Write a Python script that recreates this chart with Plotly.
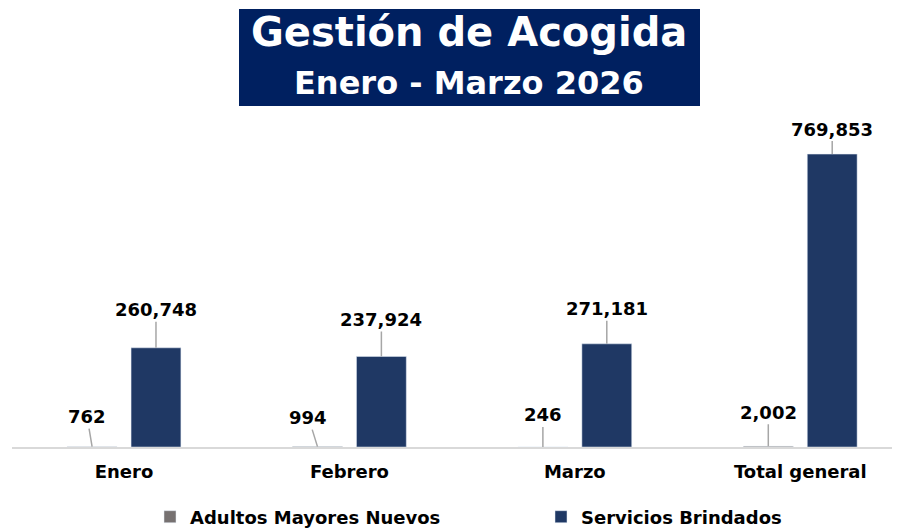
import plotly.graph_objects as go

# ---- data ----
categories = ["Enero", "Febrero", "Marzo", "Total general"]
adultos_nuevos = [762, 994, 246, 2002]
servicios_brindados = [260748, 237924, 271181, 769853]
series_names = ["Adultos Mayores Nuevos", "Servicios Brindados"]
title_line1 = "Gestión de Acogida"
title_line2 = "Enero - Marzo 2026"

# ---- styling / layout constants ----
W, H = 900, 528
PAGE_OFF = 8  # default body margin of the html page
ML, MR, MT, MB = 4, 0, 108, 89
FONT = "DejaVu Sans"
NAVY = "#1F3864"
GREY = "#767171"
BOX = "#002060"
LEADER = "#A6A6A6"
BARGAP = 0.433
BARGROUPGAP = 0.22
Y_MAX = 870000
X_RANGE = [-0.497, 3.478]

# leader-line offsets (pixels, text centre relative to bar top)
grey_offsets = [(-5, -30), (-9, -29), (0, -32), (0, -34)]
navy_offsets = [(0, -38), (0, -37), (0, -35), (0, -25)]

pw = W - ML - MR
ph = H - MT - MB


def px_x(px):
    return (px - PAGE_OFF - ML) / pw


def px_y(py):
    return (H - MB - (py - PAGE_OFF)) / ph


fig = go.Figure()
fig.add_trace(go.Bar(x=categories, y=adultos_nuevos, name=series_names[0],
                     marker_color=GREY, hoverinfo="skip", legendwidth=346))
fig.add_trace(go.Bar(x=categories, y=servicios_brindados, name=series_names[1],
                     marker_color=NAVY, hoverinfo="skip"))

slot_off = (1 - BARGAP) / 4
annotations = []
for vals, offs, sgn in [(adultos_nuevos, grey_offsets, -1),
                        (servicios_brindados, navy_offsets, 1)]:
    for j, v in enumerate(vals):
        ax, ay = offs[j]
        annotations.append(dict(
            x=j + sgn * slot_off, y=v, xref="x", yref="y",
            text=f"{v:,}", showarrow=True, arrowhead=0, arrowwidth=1.5,
            arrowcolor=LEADER, ax=ax, ay=ay, standoff=0,
            font=dict(family=FONT, size=18, color="#000000", weight="bold"),
        ))

# title box
annotations.append(dict(x=px_x(469), y=px_y(32), xref="paper", yref="paper",
                        text=title_line1, showarrow=False, xanchor="center", yanchor="middle",
                        font=dict(family=FONT, size=40, color="white", weight="bold")))
annotations.append(dict(x=px_x(469), y=px_y(83), xref="paper", yref="paper",
                        text=title_line2, showarrow=False, xanchor="center", yanchor="middle",
                        font=dict(family=FONT, size=32, color="white", weight="bold")))

fig.add_shape(type="rect", xref="paper", yref="paper",
              x0=px_x(239), x1=px_x(700), y0=px_y(106), y1=px_y(9),
              fillcolor=BOX, line=dict(color=BOX, width=0), layer="below")

fig.update_layout(
    width=W, height=H,
    margin=dict(l=ML, r=MR, t=MT, b=MB, pad=0),
    paper_bgcolor="white", plot_bgcolor="white",
    barmode="group", bargap=BARGAP, bargroupgap=BARGROUPGAP,
    annotations=annotations,
    showlegend=True,
    legend=dict(orientation="h", x=px_x(150), xanchor="left",
                y=px_y(517), yanchor="middle",
                font=dict(family=FONT, size=18, color="#000000", weight="bold"),
                bgcolor="rgba(0,0,0,0)"),
    font=dict(family=FONT, color="#000000"),
)
fig.update_xaxes(range=X_RANGE, showline=True, linecolor="#D9D9D9", linewidth=2,
                 showgrid=False, ticks="", ticklabelstandoff=7,
                 tickfont=dict(family=FONT, size=18, color="#000000", weight="bold"),
                 fixedrange=True)
fig.update_yaxes(range=[0, Y_MAX], visible=False, showgrid=False, zeroline=False,
                 fixedrange=True)

fig.write_html("out.html")
